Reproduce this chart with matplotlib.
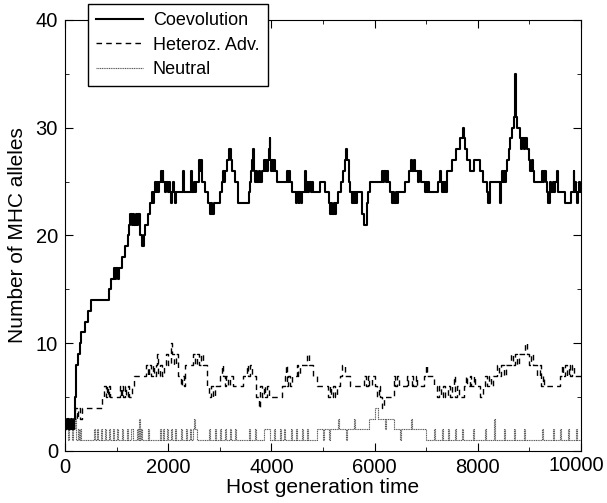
import matplotlib
matplotlib.use("Agg")
import matplotlib.pyplot as plt
from matplotlib.ticker import MultipleLocator

plt.rcParams['font.family'] = ['Liberation Sans', 'DejaVu Sans']

# step breakpoints (generation, number of alleles)
coev = [(0, 2), (40, 3), (70, 2), (110, 3), (140, 2), (170, 3), (195, 5), (205, 8), (260, 9), (290, 10),
        (320, 11), (390, 12), (440, 13), (500, 14), (860, 15), (900, 16), (960, 17), (975, 16), (995, 17),
        (1020, 16), (1040, 17), (1100, 18), (1160, 19), (1220, 20), (1250, 21), (1270, 22), (1295, 21),
        (1320, 22), (1345, 21), (1370, 22), (1400, 21), (1425, 22), (1455, 20), (1490, 19), (1530, 20),
        (1560, 21), (1600, 22), (1640, 23), (1680, 24), (1710, 23), (1730, 24), (1750, 25), (1770, 24),
        (1790, 25), (1810, 24), (1830, 25), (1860, 26), (1875, 25), (1895, 26), (1910, 25), (1940, 24),
        (1960, 25), (1990, 24), (2010, 25), (2040, 24), (2060, 23), (2075, 24), (2095, 25), (2110, 24),
        (2130, 23), (2145, 24), (2290, 26), (2310, 24), (2440, 26), (2460, 24), (2500, 25), (2520, 24),
        (2540, 25), (2590, 27), (2620, 26), (2640, 27), (2660, 25), (2720, 24), (2780, 23), (2810, 22),
        (2830, 23), (2850, 22), (2880, 23), (3010, 24), (3040, 25), (3070, 26), (3090, 25), (3110, 26),
        (3150, 27), (3185, 28), (3210, 27), (3240, 26), (3290, 25), (3360, 23), (3560, 24), (3580, 25),
        (3600, 26), (3620, 27), (3640, 28), (3655, 26), (3690, 25), (3710, 26), (3730, 25), (3760, 26),
        (3780, 25), (3810, 26), (3850, 27), (3870, 26), (3890, 27), (3920, 26), (3935, 27), (3950, 28),
        (3965, 29), (3980, 27), (4000, 26), (4015, 27), (4040, 26), (4060, 27), (4080, 26), (4110, 25),
        (4300, 26), (4320, 25), (4350, 26), (4370, 25), (4400, 24), (4480, 23), (4500, 24), (4530, 23),
        (4545, 24), (4570, 23), (4590, 24), (4650, 26), (4665, 24), (4690, 25), (4710, 24), (4730, 25),
        (4760, 24), (4780, 25), (4800, 24), (4950, 25), (5040, 24), (5110, 23), (5140, 22), (5160, 23),
        (5180, 22), (5210, 23), (5230, 22), (5260, 23), (5300, 24), (5360, 25), (5390, 26), (5430, 27),
        (5455, 28), (5475, 27), (5500, 25), (5530, 24), (5560, 23), (5580, 24), (5600, 23), (5620, 24),
        (5650, 23), (5670, 24), (5760, 22), (5790, 21), (5850, 23), (5880, 24), (5920, 25), (6150, 26),
        (6170, 25), (6190, 26), (6220, 25), (6240, 26), (6270, 25), (6300, 24), (6340, 23), (6360, 24),
        (6380, 23), (6410, 24), (6430, 23), (6460, 24), (6600, 25), (6660, 26), (6700, 27), (6720, 26),
        (6760, 27), (6780, 26), (6850, 25), (6870, 26), (6900, 25), (6980, 24), (7000, 25), (7020, 24),
        (7040, 25), (7060, 24), (7240, 25), (7260, 26), (7280, 25), (7300, 24), (7320, 25), (7340, 24),
        (7360, 25), (7380, 24), (7400, 26), (7500, 27), (7570, 28), (7665, 29), (7715, 30), (7740, 29),
        (7760, 28), (7800, 27), (7860, 26), (7920, 27), (8050, 26), (8110, 25), (8180, 24), (8205, 23),
        (8235, 25), (8440, 23), (8455, 25), (8470, 26), (8490, 25), (8510, 26), (8530, 25), (8550, 26),
        (8570, 27), (8600, 28), (8635, 29), (8670, 30), (8700, 31), (8720, 35), (8740, 31), (8760, 30),
        (8810, 29), (8840, 28), (8860, 29), (8890, 28), (8910, 29), (8950, 28), (8990, 27), (9020, 26),
        (9050, 27), (9070, 26), (9090, 25), (9250, 26), (9270, 25), (9290, 26), (9320, 25), (9345, 24),
        (9370, 23), (9410, 25), (9430, 24), (9450, 25), (9470, 24), (9490, 25), (9540, 26), (9555, 24),
        (9700, 23), (9800, 24), (9860, 26), (9875, 24), (9890, 25), (9910, 24), (9930, 23), (9950, 24),
        (9970, 25), (9990, 24), (10000, 24)]

hetero = [(0, 2), (30, 3), (60, 2), (100, 3), (130, 2), (160, 3), (200, 4), (230, 3), (260, 4), (300, 3),
          (330, 4), (720, 5), (760, 6), (790, 5), (810, 6), (830, 5), (850, 6), (880, 5), (1070, 6),
          (1090, 5), (1110, 6), (1130, 5), (1160, 6), (1190, 5), (1220, 6), (1250, 5), (1300, 6), (1340, 7),
          (1580, 8), (1600, 7), (1630, 8), (1660, 7), (1700, 8), (1720, 7), (1760, 8), (1790, 9), (1810, 7),
          (1840, 8), (1880, 7), (1920, 8), (1960, 9), (1990, 8), (2060, 10), (2080, 9), (2110, 8), (2150, 9),
          (2200, 7), (2240, 6), (2270, 7), (2300, 6), (2330, 8), (2480, 9), (2520, 8), (2550, 9), (2600, 8),
          (2640, 9), (2680, 8), (2750, 6), (2790, 5), (2830, 6), (2860, 5), (2900, 6), (3000, 7), (3040, 8),
          (3070, 7), (3100, 6), (3130, 7), (3160, 6), (3200, 7), (3260, 6), (3460, 7), (3520, 8), (3540, 7),
          (3580, 8), (3620, 7), (3700, 5), (3760, 4), (3790, 6), (3820, 5), (3850, 6), (3880, 5), (3920, 6),
          (3950, 5), (4200, 6), (4260, 7), (4280, 8), (4300, 6), (4330, 7), (4360, 6), (4400, 7), (4490, 8),
          (4520, 7), (4560, 8), (4700, 9), (4730, 8), (4810, 7), (4880, 6), (5100, 5), (5130, 6), (5160, 5),
          (5200, 6), (5230, 5), (5270, 6), (5330, 7), (5370, 8), (5420, 7), (5530, 6), (5790, 7), (5830, 6),
          (5870, 7), (5900, 6), (5950, 7), (6000, 6), (6050, 5), (6080, 6), (6110, 5), (6150, 4), (6180, 5),
          (6370, 7), (6400, 6), (6440, 7), (6480, 6), (6620, 7), (6640, 6), (6720, 7), (6740, 6), (6810, 7),
          (6830, 6), (6950, 7), (7000, 8), (7020, 7), (7150, 6), (7210, 5), (7250, 6), (7280, 5), (7330, 6),
          (7360, 5), (7420, 6), (7460, 5), (7500, 6), (7540, 7), (7560, 5), (7600, 6), (7640, 5), (7730, 6),
          (7780, 7), (7800, 6), (7850, 7), (7870, 6), (7920, 7), (7940, 6), (8050, 5), (8100, 6), (8150, 7),
          (8180, 6), (8220, 7), (8260, 6), (8300, 7), (8380, 8), (8420, 7), (8460, 8), (8500, 7), (8540, 8),
          (8640, 9), (8680, 8), (8720, 9), (8760, 8), (8800, 9), (8920, 10), (8950, 9), (8990, 8), (9030, 9),
          (9070, 8), (9150, 7), (9200, 8), (9220, 6), (9260, 7), (9280, 6), (9600, 7), (9640, 8), (9660, 7),
          (9700, 8), (9730, 7), (9760, 8), (9790, 7), (9830, 8), (9860, 7), (10000, 7)]

neutral = [(0, 2), (30, 3), (50, 1), (70, 2), (100, 3), (130, 1), (160, 2), (190, 3), (220, 1), (250, 2),
           (280, 1), (300, 2), (320, 1), (560, 2), (580, 1), (620, 2), (640, 1), (700, 2), (720, 1), (780, 2),
           (800, 1), (860, 2), (880, 1), (930, 2), (950, 1), (1000, 2), (1020, 1), (1100, 2), (1120, 1),
           (1200, 2), (1220, 1), (1280, 2), (1310, 1), (1400, 2), (1420, 1), (1440, 3), (1460, 1), (1480, 2),
           (1500, 1), (1600, 2), (1620, 1), (1850, 2), (1870, 1), (1900, 2), (1920, 1), (1980, 2), (2000, 1),
           (2060, 2), (2080, 1), (2140, 2), (2160, 1), (2250, 2), (2270, 1), (2350, 2), (2370, 1), (2420, 2),
           (2440, 1), (2490, 2), (2510, 3), (2530, 2), (2560, 1), (2800, 2), (2820, 1), (2900, 2), (2920, 1),
           (3000, 2), (3020, 1), (3100, 2), (3120, 1), (3200, 2), (3220, 1), (3300, 2), (3320, 1), (3560, 2),
           (3580, 1), (3680, 2), (3700, 1), (3850, 2), (3970, 1), (4060, 2), (4080, 1), (4160, 2), (4180, 1),
           (4250, 2), (4270, 1), (4380, 2), (4400, 1), (4480, 2), (4500, 1), (4600, 2), (4620, 1), (4700, 2),
           (4720, 1), (4880, 2), (5000, 1), (5020, 2), (5120, 1), (5140, 2), (5300, 3), (5320, 2), (5450, 1),
           (5470, 2), (5600, 3), (5620, 2), (5900, 3), (6000, 4), (6060, 3), (6200, 2), (6220, 3), (6370, 2),
           (6500, 1), (6520, 2), (6700, 3), (6720, 2), (7000, 1), (7150, 2), (7170, 1), (7300, 2), (7320, 1),
           (7420, 2), (7440, 1), (7560, 2), (7580, 1), (7700, 2), (7720, 1), (7900, 2), (7920, 1), (8150, 2),
           (8170, 1), (8320, 3), (8340, 1), (8500, 2), (8520, 1), (8700, 2), (8720, 1), (8900, 2), (8920, 1),
           (9250, 2), (9270, 1), (9450, 2), (9470, 1), (9600, 2), (9620, 1), (9750, 2), (9770, 1), (9900, 2),
           (9920, 1), (10000, 1)]

xticks = [0, 2000, 4000, 6000, 8000, 10000]
xtick_labels = ["0", "2000", "4000", "6000", "8000", "10000"]

fig = plt.figure(figsize=(6.07, 5.03), dpi=100)
ax = fig.add_axes([0.107, 0.1034, 0.85, 0.857])

for data, label, style in [
        (neutral, "Neutral", dict(color="0.35", lw=0.8, ls=(0, (1, 0.6)))),
        (hetero, "Heteroz. Adv.", dict(color="black", lw=1.0, ls=(0, (4, 3)))),
        (coev, "Coevolution", dict(color="black", lw=1.5, ls="-"))]:
    t, v = zip(*data)
    ax.step(t, v, where="post", label=label, **style)

ax.set_xlim(0, 10000)
ax.set_ylim(0, 40)
# last label is drawn by hand a few pixels to the left so it stays on the canvas
ax.set_xticks(xticks, xtick_labels[:-1] + [""])
ax.xaxis.set_minor_locator(MultipleLocator(1000))
ax.yaxis.set_major_locator(MultipleLocator(10))
ax.yaxis.set_minor_locator(MultipleLocator(5))
ax.tick_params(which="both", direction="in", top=True, right=True, labelsize=14.5, pad=5)
ax.tick_params(which="major", length=6)
ax.tick_params(which="minor", length=3)
ax.annotate(xtick_labels[-1], xy=(xticks[-1], 0), xycoords=("data", "axes fraction"),
            xytext=(-3, -5 * 72 / 100), textcoords="offset points",
            ha="center", va="top", fontsize=14.5)
ax.set_xlabel("Host generation time", fontsize=15, labelpad=1)
ax.set_ylabel("Number of MHC alleles", fontsize=15, labelpad=6)

handles, labels = ax.get_legend_handles_labels()
order = [2, 1, 0]
leg = ax.legend([handles[i] for i in order], [labels[i] for i in order],
                loc="upper left", bbox_to_anchor=(0.0446, 1.037), borderaxespad=0,
                fontsize=13, fancybox=False, framealpha=1, edgecolor="black",
                handlelength=2.6, borderpad=0.45, labelspacing=0.42, handletextpad=0.55)
leg.get_frame().set_linewidth(1.0)

fig.savefig("out.png", dpi=100)
